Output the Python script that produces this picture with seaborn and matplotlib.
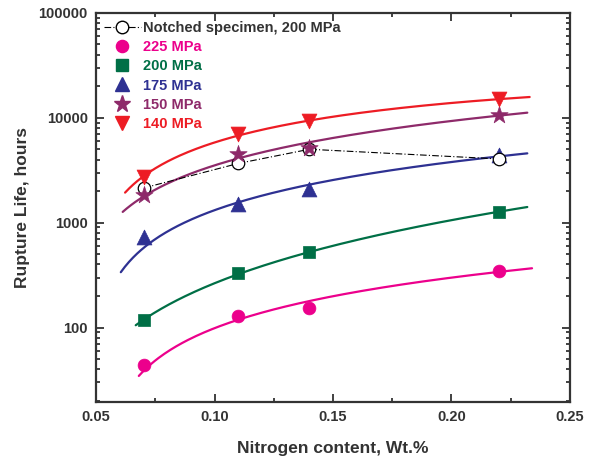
import numpy as np
import pandas as pd
import matplotlib.pyplot as plt
import seaborn as sns
from matplotlib.lines import Line2D
from matplotlib.ticker import FixedLocator, LogLocator, MultipleLocator, FuncFormatter, NullFormatter

# Datos
nitrogen = [0.07, 0.11, 0.14, 0.22]
life_225 = [44.5, 130, 153, 349]
life_200 = [117, 329, 521, 1273]
life_175 = [736, 1500, 2090, 4400]
life_150 = [1850, 4510, 5140, 10700]
life_140 = [2700, 7000, 9230, 15070]
life_notched = [2140, 3670, 5010, 4050]

labels = ['225 MPa', '200 MPa', '175 MPa', '150 MPa', '140 MPa']
notched_label = 'Notched specimen, 200 MPa'

# rango de las curvas de ajuste
fit_start = [0.068, 0.0667, 0.0604, 0.0612, 0.0622]
fit_end = [0.234, 0.232, 0.232, 0.232, 0.233]
fit_deg = [1, 2, 1, 1, 2]

colors = ['#EC008C', '#006F46', '#2E3192', '#8E2A6A', '#ED1C24']
markers = ['o', 's', '^', '*', 'v']
sizes = [85, 75, 115, 170, 115]
TXT = '#333333'

sns.set_style('ticks')
plt.rcParams['font.family'] = ['Liberation Sans', 'DejaVu Sans']
plt.rcParams['font.weight'] = 'bold'

fig, ax = plt.subplots(figsize=(5.9, 4.58), dpi=100)
fig.subplots_adjust(left=0.163, right=0.966, top=0.972, bottom=0.122)

series = [life_225, life_200, life_175, life_150, life_140]

# curvas de ajuste
for i, vida in enumerate(series):
    coef = np.polyfit(nitrogen, vida, fit_deg[i])
    xs = np.linspace(fit_start[i], fit_end[i], 200)
    ys = np.polyval(coef, xs)
    sns.lineplot(x=xs, y=ys, color=colors[i], lw=1.6, ax=ax, zorder=2)

# puntos (orden de dibujo)
def puntos(i, z):
    sns.scatterplot(x=nitrogen, y=series[i], marker=markers[i], s=sizes[i],
                    color=colors[i], edgecolor=colors[i], linewidth=0.5, ax=ax, zorder=z)

for i in [0, 1, 2]:
    puntos(i, 3)

sns.lineplot(x=nitrogen, y=life_notched, color='black', lw=0.8, ax=ax, zorder=4,
             linestyle=(0, (6, 2, 1, 2)), marker='o', markersize=9,
             markerfacecolor='white', markeredgecolor='black', markeredgewidth=0.9)

for i in [3, 4]:
    puntos(i, 5)

ax.set_yscale('log')
ax.set_xlim(0.05, 0.25)
ax.set_ylim(19.5, 100000)

ax.xaxis.set_major_locator(MultipleLocator(0.05))
ax.xaxis.set_minor_locator(MultipleLocator(0.025))
ax.xaxis.set_major_formatter(FuncFormatter(lambda v, p: f'{v:.2f}'))
ax.yaxis.set_major_locator(FixedLocator([100, 1000, 10000, 100000]))
ax.yaxis.set_minor_locator(LogLocator(base=10, subs=np.arange(2, 10)))
ax.yaxis.set_major_formatter(FuncFormatter(lambda v, p: f'{int(v)}'))
ax.yaxis.set_minor_formatter(NullFormatter())

ax.tick_params(which='both', direction='in', top=True, right=True,
               colors='#333333', labelcolor=TXT, labelsize=10.5, width=1.3)
ax.tick_params(which='major', length=6, pad=6)
ax.tick_params(which='minor', length=3)
for sp in ax.spines.values():
    sp.set_linewidth(1.6)
    sp.set_color('#333333')

ax.set_xlabel('Nitrogen content, Wt.%', fontsize=12.5, fontweight='bold', color=TXT, labelpad=12)
ax.set_ylabel('Rupture Life, hours', fontsize=12.5, fontweight='bold', color=TXT, labelpad=6)

# Leyenda
handles = [Line2D([], [], color='black', lw=0.8, linestyle=(0, (6, 2, 1, 2)), marker='o',
                  markersize=9, markerfacecolor='white', markeredgecolor='black')]
for i in range(5):
    handles.append(Line2D([], [], linestyle='', marker=markers[i], color=colors[i],
                          markersize=np.sqrt(sizes[i]) * 0.95))
leg = ax.legend(handles, [notched_label] + labels, loc='upper left', frameon=False,
                fontsize=10.5, handlelength=2.5, handletextpad=0.15, labelspacing=0.36,
                borderaxespad=0.35, borderpad=0.2)
for txt, c in zip(leg.get_texts(), ['#333333'] + colors):
    txt.set_color(c)
    txt.set_fontweight('bold')

plt.savefig('out.png', dpi=100)
plt.close()
